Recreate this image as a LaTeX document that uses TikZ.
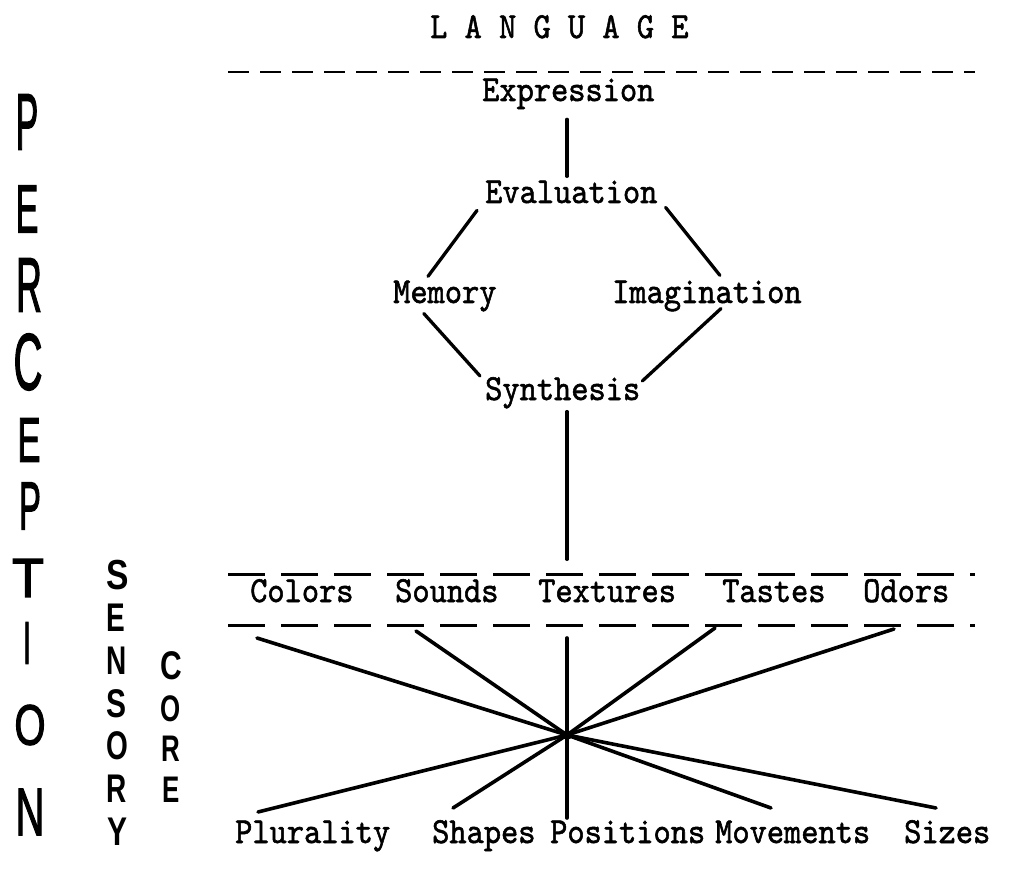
\documentclass[tikz,border=0pt]{standalone}
\usepackage{fontspec}
\usepackage{graphicx}
\usetikzlibrary{calc}
\setmonofont{lmmono10-regular.otf}[FakeBold=1.6]
\newfontfamily\handfont{Liberation Sans}[FakeBold=2.2]
\newfontfamily\handbase{Liberation Sans}
\newcommand\hchar[3]{\scalebox{#2}[1]{\handfont\fontsize{#1}{#1}\selectfont #3}}
\newcommand\bchar[3]{\scalebox{#2}[1]{\handbase\bfseries\fontsize{#1}{#1}\selectfont #3}}
\newcommand\twt[1]{\scalebox{1}[1.12]{#1}}
\begin{document}
\begin{tikzpicture}[x=1pt,y=-1pt,
  tw/.style={font=\fontsize{32.8}{36}\selectfont\ttfamily, inner sep=0pt, anchor=base west},
  hl/.style={inner sep=0pt},
  link/.style={line width=3.3pt, line cap=round},
  ray/.style={line width=3.6pt, line cap=round},
  topdash/.style={line width=2.8pt, dash pattern=on 21pt off 11pt},
  rowdash/.style={line width=3pt, dash pattern=on 37pt off 16pt}]
\path[use as bounding box, fill=white] (0,0) rectangle (1010,869);

% header
\node[tw] (lang) at (430,38) {\twt{L A N G U A G E}};
\coordinate (tl) at (228,72);
\coordinate (tr) at (975,72);
\draw[topdash] (tl) -- (tr);

% upper hexagon
\coordinate (axis) at (567,0);
\node[tw] (expr) at (482,101) {\twt{Expression}};
\node[tw] (eval) at (485,203) {\twt{Evaluation}};
\node[tw] (mem) at (393,303) {\twt{Memory}};
\node[tw] (imag) at (612,303) {\twt{Imagination}};
\node[tw] (synth) at (485,400) {\twt{Synthesis}};

\draw[link] ($(expr.south -| axis)+(0,10)$) -- ($(eval.north -| axis)+(0,-4)$);
\draw[link] ($(eval.south west)+(-8,7)$) -- ($(mem.north west)+(35,-4)$);
\draw[link] ($(eval.south east)+(8,4)$) -- ($(imag.north)+(13,-5)$);
\draw[link] ($(mem.south)+(-21,2)$) -- ($(synth.north west)+(-5,-1)$);
\draw[link] ($(imag.south)+(14,-3)$) -- ($(synth.north east)+(2,4)$);

% sensory row
\node[tw] (colors) at (250,602) {\twt{Colors}};
\node[tw] (sounds) at (395,602) {\twt{Sounds}};
\node[tw] (textures) at (538,602) {\twt{Textures}};
\node[tw] (tastes) at (722,602) {\twt{Tastes}};
\node[tw] (odors) at (863,602) {\twt{Odors}};
\draw[link] ($(synth.south -| axis)+(0,3)$) -- ($(textures.north -| axis)+(0,-20)$);
\coordinate (r1l) at (228,574);
\coordinate (r1r) at (975,574);
\coordinate (r2l) at (228,625);
\coordinate (r2r) at (975,625);
\draw[rowdash] (r1l) -- (r1r);
\draw[rowdash] (r2l) -- (r2r);

% bottom labels
\node[tw] (plur) at (235,843) {\twt{Plurality}};
\node[tw] (shapes) at (432,843) {\twt{Shapes}};
\node[tw] (posit) at (550,843) {\twt{Positions}};
\node[tw] (movem) at (715,843) {\twt{Movements}};
\node[tw] (sizes) at (904,843) {\twt{Sizes}};

% rays through the hub
\coordinate (hub) at (567,735);
\coordinate (tc) at (257,638);
\coordinate (ts) at (416,631);
\coordinate (tt) at (567,638);
\coordinate (ta) at (715,628);
\coordinate (to) at (894,629);
\coordinate (bp) at (258,812);
\coordinate (bs) at (453,808);
\coordinate (bq) at (567,818);
\coordinate (bm) at (771,808);
\coordinate (bz) at (936,808);
\foreach \e in {tc,ts,tt,ta,to,bp,bs,bq,bm,bz} \draw[ray] (\e) -- (hub);
\fill (hub) circle (5pt);

% PERCEPTION
\node[hl] (p1) at (27,122) {\hchar{80}{0.42}{P}};
\node[hl] (p2) at (27,209) {\hchar{68}{0.5}{E}};
\node[hl] (p3) at (29,285) {\hchar{77}{0.46}{R}};
\node[hl] (p4) at (28,362) {\hchar{80}{0.5}{C}};
\node[hl] (p5) at (29,440) {\hchar{63}{0.55}{E}};
\node[hl] (p6) at (30,506) {\hchar{68}{0.48}{P}};
\node[hl] (p7) at (28,578) {\hchar{55}{0.95}{T}};
\node[hl] (p8) at (27,643) {\hchar{60}{0.5}{I}};
\node[hl] (p9) at (30,725) {\hchar{57}{0.7}{O}};
\node[hl] (p10) at (30,812) {\hchar{67}{0.6}{N}};

% SENSORY
\node[hl] (s1) at (118,575) {\bchar{42}{0.8}{S}};
\node[hl] (s2) at (116,618) {\bchar{40}{0.7}{E}};
\node[hl] (s3) at (117,661) {\bchar{40}{0.7}{N}};
\node[hl] (s4) at (117,704) {\bchar{40}{0.75}{S}};
\node[hl] (s5) at (117,746) {\bchar{40}{0.7}{O}};
\node[hl] (s6) at (117,789) {\bchar{40}{0.7}{R}};
\node[hl] (s7) at (118,832) {\bchar{40}{0.75}{Y}};

% CORE
\node[hl] (c1) at (171,666) {\bchar{40}{0.75}{C}};
\node[hl] (c2) at (171,709) {\bchar{37}{0.7}{O}};
\node[hl] (c3) at (171,749) {\bchar{37}{0.7}{R}};
\node[hl] (c4) at (171,790) {\bchar{37}{0.7}{E}};
\end{tikzpicture}
\end{document}
